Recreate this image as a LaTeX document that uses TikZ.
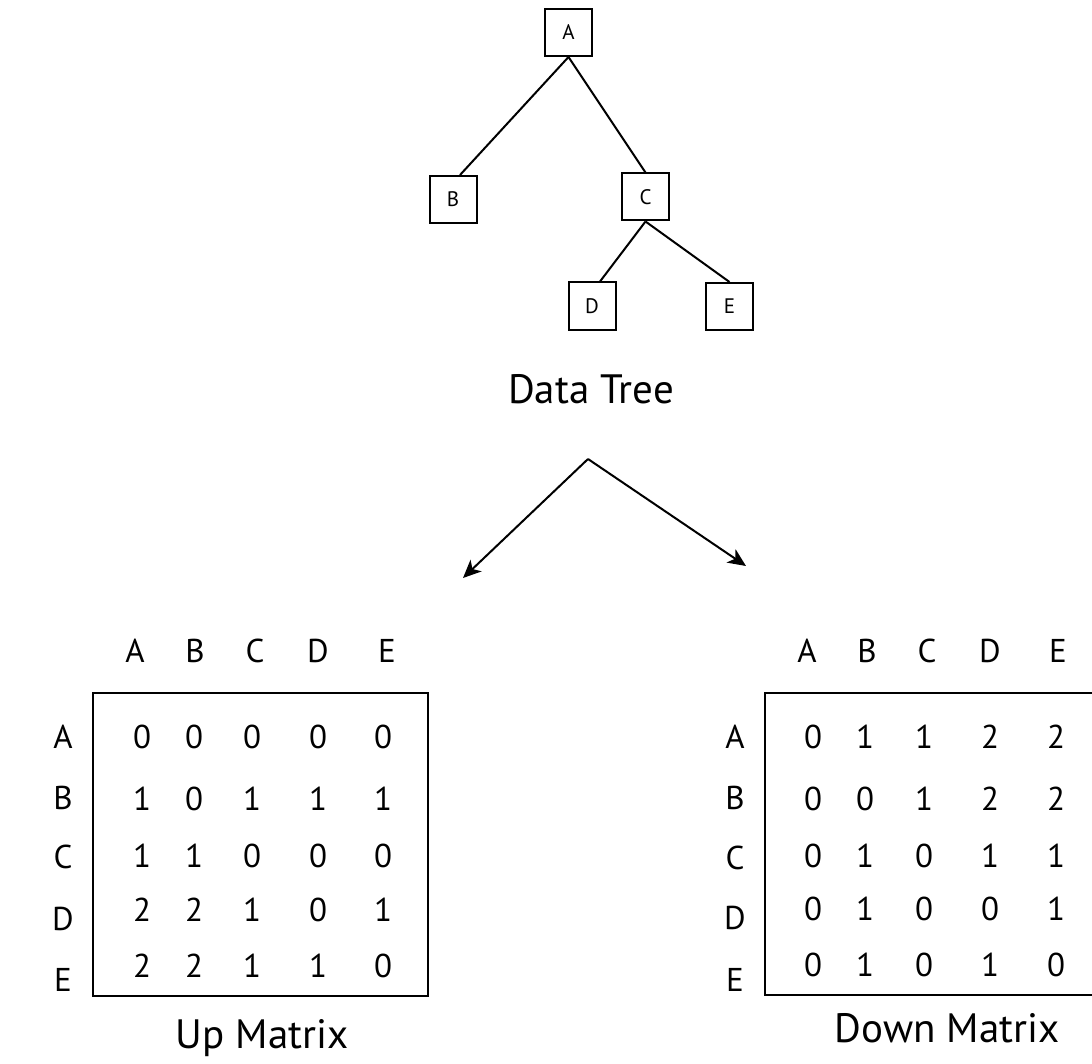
\documentclass[tikz,border=0pt]{standalone}
\usepackage{fontspec}
\setmainfont{PT Sans}
\usetikzlibrary{arrows.meta}

\tikzset{
  treebox/.style={draw, line width=1pt, inner sep=0pt, minimum size=23.5pt,
    font=\fontsize{10.5pt}{12pt}\selectfont},
  edge/.style={line width=1pt},
  flow/.style={line width=1pt, -{Stealth[length=9pt, width=8pt, inset=2.5pt]}},
  lbl/.style={inner sep=0pt, font=\fontsize{16.5pt}{20pt}\selectfont},
  cell/.style={inner sep=0pt, font=\fontsize{16.5pt}{20pt}\selectfont},
  title/.style={inner sep=0pt, anchor=base, font=\fontsize{20.5pt}{24pt}\selectfont},
  matbox/.style={draw, line width=1pt},
}

\begin{document}
\begin{tikzpicture}[x=0.5pt, y=-0.5pt]
  \useasboundingbox (0,0) rectangle (1092,1064);
  \clip (0,0) rectangle (1092,1064);

  % data tree
  \node[treebox] (A) at (568.5,32.5) {A};
  \node[treebox] (B) at (453,199.5) {B};
  \node[treebox] (C) at (645.5,197) {C};
  \node[treebox] (D) at (592,306) {D};
  \node[treebox] (E) at (729.5,306.5) {E};
  \draw[edge] (A.south) -- ([xshift=3.5pt]B.north);
  \draw[edge] (A.south) -- (C.north);
  \draw[edge] (C.south) -- ([xshift=4pt]D.north);
  \draw[edge] (C.south) -- (E.north);
  \node[title] (treetitle) at (591,403) {Data Tree};

  % split arrows
  \coordinate (apex) at (588,459);
  \coordinate (upend) at (463,578);
  \coordinate (downend) at (746,566);
  \draw[flow] (apex) -- (upend);
  \draw[flow] (apex) -- (downend);

  % up matrix
  \node[matbox, minimum width=167.5pt, minimum height=151.5pt, inner sep=0pt]
    (upbox) at (260.5,844.5) {};
  \foreach \h [count=\c] in {A,B,C,D,E} {
    \pgfmathsetmacro{\hx}{{135,195,255,318,387}[\c-1]}
    \node[lbl] (up-col-\c) at (\hx,651) {\h};
    \pgfmathsetmacro{\hy}{{737,798,857,919,980}[\c-1]}
    \node[lbl] (up-row-\c) at (63,\hy) {\h};
  }
  \foreach \vals [count=\r] in {{0,0,0,0,0},{1,0,1,1,1},{1,1,0,0,0},{2,2,1,0,1},{2,2,1,1,0}} {
    \foreach \v [count=\c] in \vals {
      \pgfmathsetmacro{\px}{{142,194,252,318,383}[\c-1]}
      \pgfmathsetmacro{\py}{{737,799,856,910,966}[\r-1]}
      \node[cell] (up-\r-\c) at (\px,\py) {\v};
    }
  }
  \node[title] (uptitle) at (262,1048) {Up Matrix};

  % down matrix
  \node[matbox, minimum width=167.5pt, minimum height=151pt, inner sep=0pt]
    (downbox) at (932.5,844) {};
  \foreach \h [count=\c] in {A,B,C,D,E} {
    \pgfmathsetmacro{\hx}{{807,867,927,990,1058}[\c-1]}
    \node[lbl] (down-col-\c) at (\hx,651) {\h};
    \pgfmathsetmacro{\hy}{{737,798,858,918,980}[\c-1]}
    \node[lbl] (down-row-\c) at (735,\hy) {\h};
  }
  \foreach \vals [count=\r] in {{0,1,1,2,2},{0,0,1,2,2},{0,1,0,1,1},{0,1,0,0,1},{0,1,0,1,0}} {
    \foreach \v [count=\c] in \vals {
      \pgfmathsetmacro{\px}{{813,865,924,990,1056}[\c-1]}
      \pgfmathsetmacro{\py}{{737,799,856,909,965}[\r-1]}
      \node[cell] (down-\r-\c) at (\px,\py) {\v};
    }
  }
  \node[title] (downtitle) at (947,1042) {Down Matrix};
\end{tikzpicture}
\end{document}
